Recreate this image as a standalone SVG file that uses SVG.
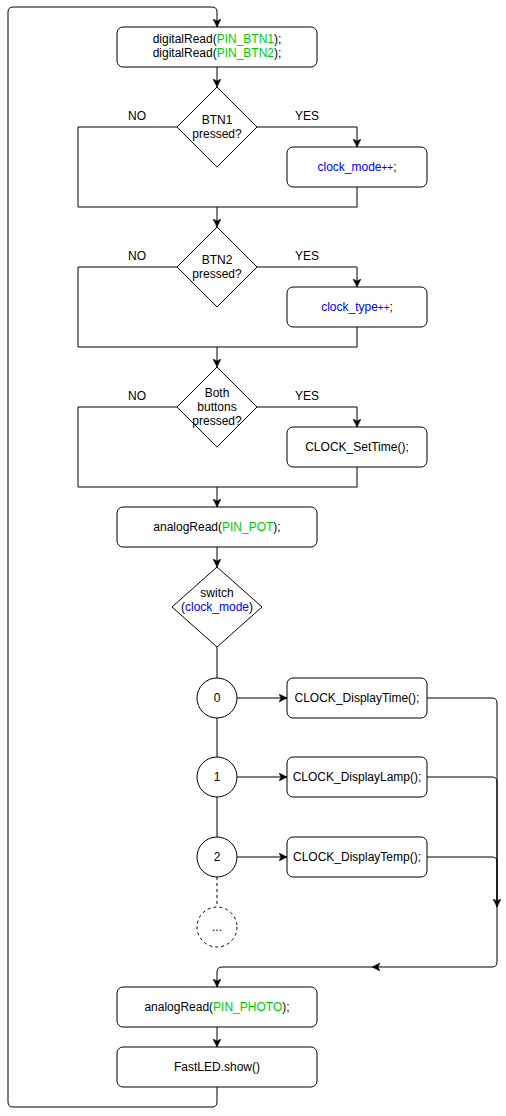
<svg xmlns="http://www.w3.org/2000/svg" width="506" height="1116" viewBox="0 0 506 1116">
<defs>
<style>
.box{fill:#fff;stroke:#000;stroke-width:1}
.ln{fill:none;stroke:#000;stroke-width:1}
.dash{fill:none;stroke:#000;stroke-width:1;stroke-dasharray:3 3}
text{font-family:"Liberation Sans",Arial,sans-serif;font-size:12px;fill:#000;text-anchor:middle}
.g{fill:#00CC00}
.b{fill:#0000FF}
.sm{font-size:10px}
</style>
<marker id="arr" markerUnits="userSpaceOnUse" markerWidth="10" markerHeight="10" refX="8" refY="4" orient="auto">
<path d="M0,0 L8,4 L0,8 L2,4 Z" fill="#000" stroke="#000" stroke-width="0.5"/>
</marker>
</defs>
<rect width="506" height="1116" fill="#fff"/>
<g id="connectors">
<path class="ln" d="M217,1087 L217,1102 Q217,1107 212,1107 L13,1107 Q8,1107 8,1102 L8,12 Q8,7 13,7 L212,7 Q217,7 217,12 L217,27" marker-end="url(#arr)"/>
<path class="ln" d="M217,67 L217,87" marker-end="url(#arr)"/>
<path class="ln" d="M177,127 L78,127 L78,207 L357,207 L357,187"/>
<path class="ln" d="M257,127 L357,127 L357,147" marker-end="url(#arr)"/>
<path class="ln" d="M217,207 L217,227" marker-end="url(#arr)"/>
<path class="ln" d="M177,267 L78,267 L78,347 L357,347 L357,327"/>
<path class="ln" d="M257,267 L357,267 L357,287" marker-end="url(#arr)"/>
<path class="ln" d="M217,347 L217,367" marker-end="url(#arr)"/>
<path class="ln" d="M177,407 L78,407 L78,487 L357,487 L357,467"/>
<path class="ln" d="M257,407 L357,407 L357,427" marker-end="url(#arr)"/>
<path class="ln" d="M217,487 L217,507" marker-end="url(#arr)"/>
<path class="ln" d="M217,547 L217,567" marker-end="url(#arr)"/>
<path class="ln" d="M217,647 L217,678"/>
<path class="ln" d="M217,718 L217,757"/>
<path class="ln" d="M217,797 L217,837"/>
<path class="dash" d="M217,877 L217,907"/>
<path class="ln" d="M237,698 L287,698" marker-end="url(#arr)"/>
<path class="ln" d="M237,777 L287,777" marker-end="url(#arr)"/>
<path class="ln" d="M237,857 L287,857" marker-end="url(#arr)"/>
<path class="ln" d="M427,698 L492,698 Q497,698 497,703 L497,907" marker-end="url(#arr)"/>
<path class="ln" d="M427,777 L492,777 Q497,777 497,782 L497,907"/>
<path class="ln" d="M427,857 L492,857 Q497,857 497,862 L497,907"/>
<path class="ln" d="M497,907 L497,962 Q497,967 492,967 L372,967" marker-end="url(#arr)"/>
<path class="ln" d="M372,967 L222,967 Q217,967 217,972 L217,987" marker-end="url(#arr)"/>
<text x="137" y="120">NO</text>
<text x="307" y="120">YES</text>
<text x="137" y="260">NO</text>
<text x="307" y="260">YES</text>
<text x="137" y="400">NO</text>
<text x="307" y="400">YES</text>
</g>
<g id="read_buttons">
<rect class="box" x="117" y="27" width="200" height="40" rx="6"/>
<text x="217" y="43">digitalRead(<tspan class="g">PIN_BTN1</tspan>);</text>
<text x="217" y="57">digitalRead(<tspan class="g">PIN_BTN2</tspan>);</text>
</g>
<g id="btn1_pressed">
<path class="box" d="M217,87 L257,127 L217,167 L177,127 Z"/>
<text x="217" y="124">BTN1</text>
<text x="217" y="138">pressed?</text>
</g>
<g id="clock_mode_inc">
<rect class="box" x="287" y="147" width="140" height="40" rx="6"/>
<text x="357" y="171"><tspan class="b">clock_mode</tspan><tspan class="b sm">++</tspan>;</text>
</g>
<g id="btn2_pressed">
<path class="box" d="M217,227 L257,267 L217,307 L177,267 Z"/>
<text x="217" y="264">BTN2</text>
<text x="217" y="278">pressed?</text>
</g>
<g id="clock_type_inc">
<rect class="box" x="287" y="287" width="140" height="40" rx="6"/>
<text x="357" y="311"><tspan class="b">clock_type</tspan><tspan class="b sm">++</tspan>;</text>
</g>
<g id="both_pressed">
<path class="box" d="M217,367 L257,407 L217,447 L177,407 Z"/>
<text x="217" y="397">Both</text>
<text x="217" y="411">buttons</text>
<text x="217" y="425">pressed?</text>
</g>
<g id="set_time">
<rect class="box" x="287" y="427" width="140" height="40" rx="6"/>
<text x="357" y="451">CLOCK_SetTime();</text>
</g>
<g id="read_pot">
<rect class="box" x="117" y="507" width="200" height="40" rx="6"/>
<text x="217" y="531">analogRead(<tspan class="g">PIN_POT</tspan>);</text>
</g>
<g id="switch_mode">
<path class="box" d="M217,567 L262,607 L217,647 L172,607 Z"/>
<text x="217" y="597">switch</text>
<text x="217" y="611">(<tspan class="b">clock_mode</tspan>)</text>
</g>
<g id="case0">
<circle class="box" cx="217" cy="698" r="20"/>
<text x="217" y="702">0</text>
</g>
<g id="case1">
<circle class="box" cx="217" cy="777" r="20"/>
<text x="217" y="781">1</text>
</g>
<g id="case2">
<circle class="box" cx="217" cy="857" r="20"/>
<text x="217" y="861">2</text>
</g>
<g id="case_more">
<circle class="box" cx="217" cy="927" r="20" stroke-dasharray="3 3"/>
<text x="217" y="931">...</text>
</g>
<g id="display_time">
<rect class="box" x="287" y="678" width="140" height="40" rx="6"/>
<text x="357" y="702">CLOCK_DisplayTime();</text>
</g>
<g id="display_lamp">
<rect class="box" x="287" y="757" width="140" height="40" rx="6"/>
<text x="357" y="781">CLOCK_DisplayLamp();</text>
</g>
<g id="display_temp">
<rect class="box" x="287" y="837" width="140" height="40" rx="6"/>
<text x="357" y="861">CLOCK_DisplayTemp();</text>
</g>
<g id="read_photo">
<rect class="box" x="117" y="987" width="200" height="40" rx="6"/>
<text x="217" y="1011">analogRead(<tspan class="g">PIN_PHOTO</tspan>);</text>
</g>
<g id="fastled_show">
<rect class="box" x="117" y="1047" width="200" height="40" rx="6"/>
<text x="217" y="1071">FastLED.show()</text>
</g>
<path class="ln" d="M217,1027 L217,1047" marker-end="url(#arr)"/>
</svg>
